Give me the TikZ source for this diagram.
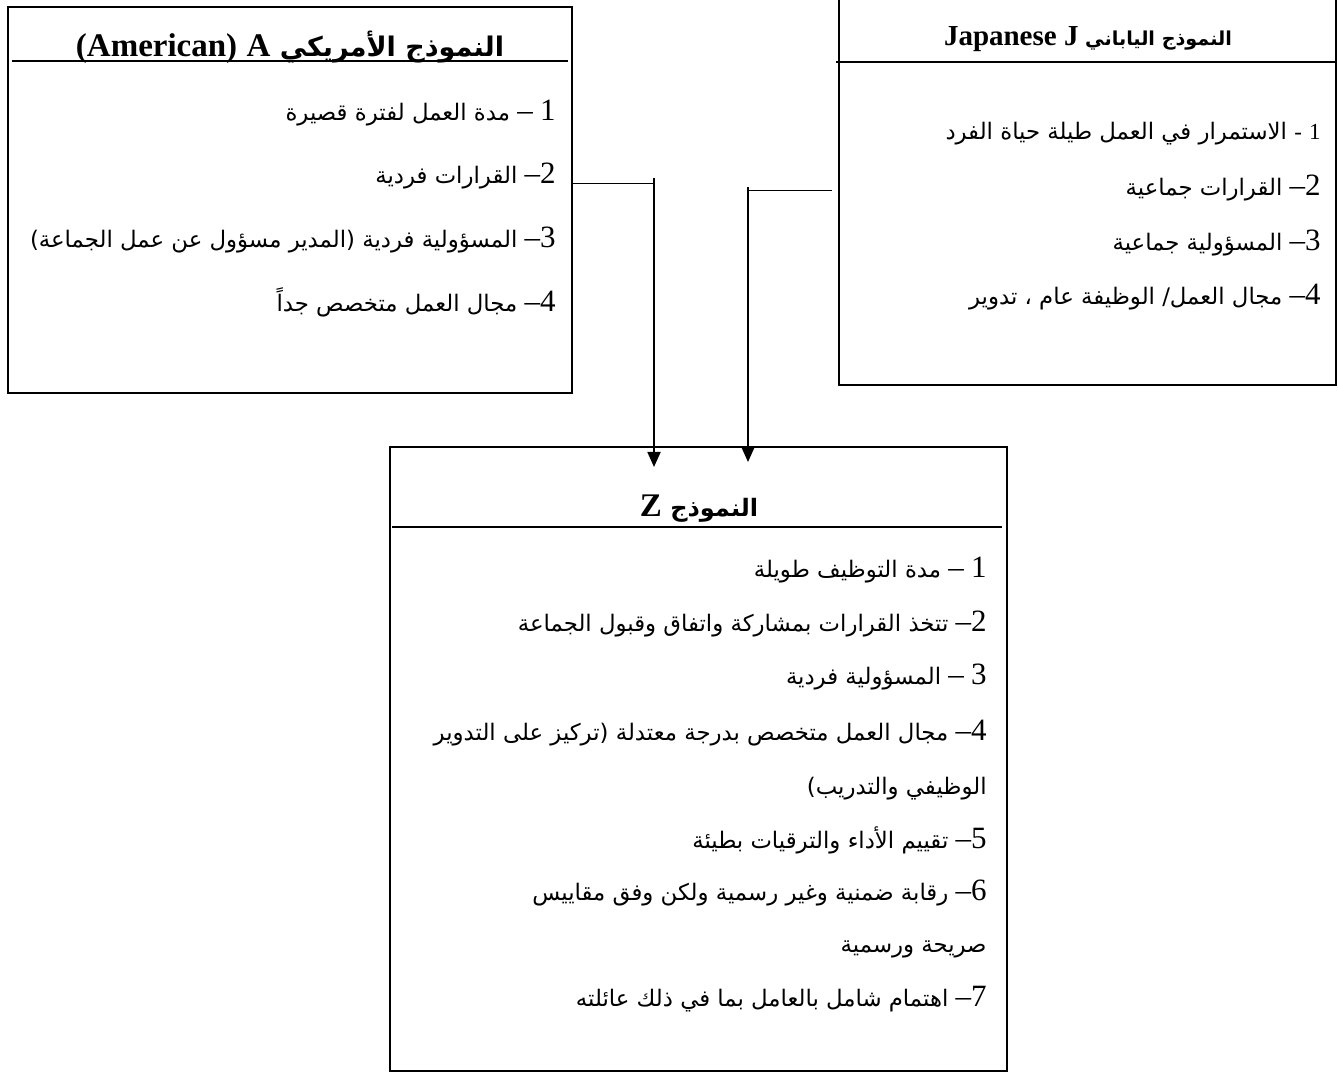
\documentclass[tikz,border=0pt]{standalone}
\usepackage{fontspec}
\setmainfont{Liberation Serif}
\newfontfamily\arab[Script=Arabic]{DejaVu Sans}
\TeXXeTstate=1
\usetikzlibrary{arrows.meta,calc}

% digit + dash prefixes of the list entries
\newcommand\numfont{\rmfamily\fontsize{15.5}{17}\selectfont}
\newcommand\tight[1]{{\numfont #1}\kern0pt{\numfont –}\ }
\newcommand\loose[1]{{\numfont #1}\ {\numfont –}\ }
\newcommand\rtl[1]{\beginR #1\endR}
\newcommand\latbig[1]{{\rmfamily\fontsize{16.5}{19}\selectfont #1}}

\begin{document}
\begin{tikzpicture}[x=0.5pt,y=-0.5pt,
  frame/.style={draw, line width=1pt, inner sep=0pt, outer sep=0pt},
  rule/.style={line width=0.6pt},
  head/.style={inner sep=0pt, anchor=base, font=\arab\bfseries\fontsize{13.5}{15}\selectfont},
  entry/.style={inner sep=0pt, anchor=base east, font=\arab\fontsize{11.4}{14}\selectfont},
  link/.style={line width=0.5pt},
  feed/.style={line width=0.9pt, -{Triangle[length=7.5pt,width=6.5pt]}},
]
\useasboundingbox (0,0) rectangle (1338,1074);

% ---- the three boxes
\node[frame, anchor=north west, minimum width=282pt, minimum height=193pt] (boxA) at (8,7) {};
\node[frame, anchor=south west, minimum width=248.5pt, minimum height=203pt] (boxJ) at (839,385) {};
\node[frame, anchor=north west, minimum width=308.5pt, minimum height=312pt] (boxZ) at (390,447) {};

% ---- headings and their rules
\node[head] (titA) at (290,57) {\rtl{النموذج الأمريكي\ \latbig{A}\ \latbig{(American)}}};
\draw[rule] (12,61) -- (568,61);

\node[head, font=\arab\bfseries\fontsize{9.6}{12}\selectfont] (titJ) at (1088,46) {\rtl{النموذج الياباني\ {\rmfamily\fontsize{14.5}{16}\selectfont J\ Japanese}}};
\draw[rule] (836,62) -- (boxJ.east |- 0,62);

\node[head, font=\arab\bfseries\fontsize{12}{14}\selectfont] (titZ) at (699,517) {\rtl{النموذج\ \latbig{Z}}};
\draw[rule] (392,527) -- (1002,527);

% ---- American model
\node[entry] (a1) at (556,121) {\rtl{\loose{1}مدة العمل لفترة قصيرة}};
\node[entry] (a2) at (556,184) {\rtl{\tight{2}القرارات فردية}};
\node[entry] (a3) at (556,248) {\rtl{\tight{3}المسؤولية فردية (المدير مسؤول عن عمل الجماعة)}};
\node[entry] (a4) at (556,312) {\rtl{\tight{4}مجال العمل متخصص جداً}};

% ---- Japanese model
\node[entry] (j1) at (1321,140) {\rtl{{\rmfamily\fontsize{11.5}{13}\selectfont 1}\ {\rmfamily -}\ الاستمرار في العمل طيلة حياة الفرد}};
\node[entry] (j2) at (1321,196) {\rtl{\tight{2}القرارات جماعية}};
\node[entry] (j3) at (1321,251) {\rtl{\tight{3}المسؤولية جماعية}};
\node[entry] (j4) at (1321,305) {\rtl{\tight{4}مجال العمل/ الوظيفة عام ، تدوير}};

% ---- model Z
\node[entry] (z1) at (987,578) {\rtl{\loose{1}مدة التوظيف طويلة}};
\node[entry] (z2) at (987,632) {\rtl{\tight{2}تتخذ القرارات بمشاركة واتفاق وقبول الجماعة}};
\node[entry] (z3) at (987,684) {\rtl{\loose{3}المسؤولية فردية}};
\node[entry] (z4) at (987,740) {\rtl{\tight{4}مجال العمل متخصص بدرجة معتدلة (تركيز على التدوير}};
\node[entry] (z4b) at (987,794) {\rtl{الوظيفي والتدريب)}};
\node[entry] (z5) at (987,848) {\rtl{\tight{5}تقييم الأداء والترقيات بطيئة}};
\node[entry] (z6) at (987,900) {\rtl{\tight{6}رقابة ضمنية وغير رسمية ولكن وفق مقاييس}};
\node[entry] (z6b) at (987,952) {\rtl{صريحة ورسمية}};
\node[entry] (z7) at (987,1006) {\rtl{\tight{7}اهتمام شامل بالعامل بما في ذلك عائلته}};

% ---- connectors into model Z
\coordinate (aBend) at (654,184);
\coordinate (aTop) at (654,178);
\coordinate (jBend) at (748,191);
\coordinate (jTop) at (748,187);
\coordinate (jEnd) at (832,191);
\draw[link] (boxA.east |- aBend) -- (aBend);
\draw[feed] (aTop) -- ($(boxZ.north -| aTop)+(0,20)$);
\draw[link] (jBend) -- (jEnd);
\draw[feed] (jTop) -- ($(boxZ.north -| jTop)+(0,15)$);
\end{tikzpicture}
\end{document}
